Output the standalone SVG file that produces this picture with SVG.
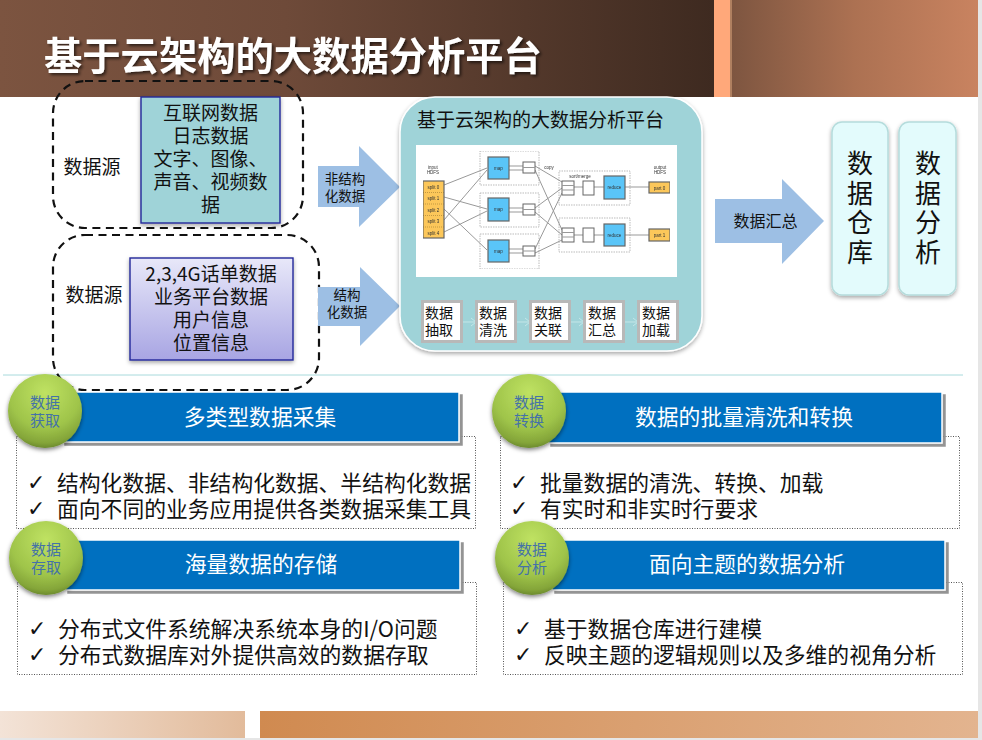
<svg xmlns="http://www.w3.org/2000/svg" width="982" height="740" viewBox="0 0 982 740">
<style>
text{font-family:"Noto Sans CJK SC","Liberation Sans",sans-serif;fill:#111}
.m{text-anchor:middle}
.t19{font-size:19px}
.t14{font-size:14px}
.t22{font-size:21.8px}
.w{fill:#fff}
.blue{fill:#0070c0;stroke:#fff;stroke-width:1.5;filter:url(#hardShadow)}
.dot{fill:none;stroke:#555;stroke-width:1;stroke-dasharray:1 1.5}
.dash{fill:none;stroke:#111;stroke-width:2.2;stroke-dasharray:8 5.500}
.arrow{fill:#9dbfe4}
.step{fill:#fff;stroke:#b8b8b8;stroke-width:3}
.card{fill:#e3fbfc;stroke:#b5dcdc;stroke-width:1.5;filter:url(#softShadow)}
.vt{font-size:26px;writing-mode:vertical-rl;letter-spacing:3.700px}
.ck{font-family:"DejaVu Sans",sans-serif;font-size:22px}
.cir{fill:url(#ball);filter:url(#ballShadow)}
.ct{fill:#4472a8;font-size:15px;text-anchor:middle}
.il{stroke:#999;stroke-width:1;fill:none}
.dg{fill:none;stroke:#aaa;stroke-width:.8;stroke-dasharray:1.5 1}
.yl{fill:#fcc75a;stroke:#666;stroke-width:1.2}
.bl{fill:#5ac5f8;stroke:#666;stroke-width:1.2}
.bf{fill:#fff;stroke:#666;stroke-width:1}
.s{font-family:"Liberation Sans",sans-serif;font-size:4.5px;text-anchor:middle;fill:#333}
.fa{stroke:#c4e6e8;stroke-width:1;fill:none}
</style>
<defs>
<linearGradient id="hd1" x1="0" x2="1" y1="0" y2="0"><stop offset="0" stop-color="#7c5440"/><stop offset=".4" stop-color="#6e4a39"/><stop offset="1" stop-color="#3e2a20"/></linearGradient>
<linearGradient id="hd2" x1="0" x2="1" y1="0" y2="0"><stop offset="0" stop-color="#7d5540"/><stop offset=".5" stop-color="#ac7152"/><stop offset="1" stop-color="#c98360"/></linearGradient>
<linearGradient id="ft1" x1="0" x2="1" y1="0" y2="0"><stop offset="0" stop-color="#f3e3d7"/><stop offset="1" stop-color="#e2bb9b"/></linearGradient>
<linearGradient id="ft2" x1="0" x2="1" y1="0" y2="0"><stop offset="0" stop-color="#d08a50"/><stop offset="1" stop-color="#e3b48f"/></linearGradient>
<linearGradient id="purple" x1="0" x2="0" y1="0" y2="1"><stop offset="0" stop-color="#e8e8f9"/><stop offset="1" stop-color="#a8a5e3"/></linearGradient>
<radialGradient id="ball" cx=".5" cy=".25" r=".8"><stop offset="0" stop-color="#bfe262"/><stop offset=".6" stop-color="#9fc44a"/><stop offset=".85" stop-color="#84a539"/><stop offset="1" stop-color="#5b7826"/></radialGradient>
<filter id="softShadow" x="-20%" y="-20%" width="140%" height="140%"><feDropShadow dx="0" dy="2" stdDeviation="2" flood-color="#000" flood-opacity=".35"/></filter>
<filter id="ballShadow" x="-20%" y="-20%" width="140%" height="140%"><feDropShadow dx="0" dy="2" stdDeviation="2" flood-color="#000" flood-opacity=".5"/></filter>
<filter id="hardShadow" x="-5%" y="-10%" width="110%" height="125%"><feDropShadow dx="3" dy="3" stdDeviation=".4" flood-color="#888" flood-opacity=".9"/></filter>
<filter id="titleShadow" x="-5%" y="-20%" width="110%" height="150%"><feDropShadow dx="2" dy="2" stdDeviation="1.5" flood-color="#000" flood-opacity=".6"/></filter>
<filter id="blur" x="0" y="0" width="100%" height="100%"><feGaussianBlur stdDeviation=".3"/></filter>
</defs>

<rect width="982" height="740" fill="#fff"/>
<g id="chrome">
<rect x="978" y="0" width="4" height="740" fill="#e6e6e6"/>
<rect x="0" y="738" width="982" height="2" fill="#e6e6e6"/>
<rect x="0" y="0" width="714" height="97" fill="url(#hd1)"/>
<rect x="714" y="0" width="16" height="97" fill="#ffa87a"/>
<rect x="730" y="0" width="248" height="97" fill="url(#hd2)"/>
<rect x="730" y="0" width="2" height="97" fill="#b08060"/>
<rect x="0" y="711" width="245" height="27" fill="url(#ft1)"/>
<rect x="260" y="711" width="718" height="27" fill="url(#ft2)"/>
<line x1="3" y1="375" x2="963" y2="375" stroke="#a8dadc" stroke-width="1"/>
</g>
<g id="title"><text x="44" y="70" font-size="38.300" font-weight="700" class="w" filter="url(#titleShadow)">基于云架构的大数据分析平台</text></g>

<g id="source1">
<rect class="dash" x="53" y="81" width="250" height="147" rx="32"/>
<text class="t19" x="63.500" y="174">数据源</text>
<rect x="141" y="97" width="139" height="126" fill="#9fd3d8" stroke="#23279a" stroke-width="1.400" filter="url(#softShadow)"/>
<text class="t19 m"><tspan x="210.500" y="120">互联网数据</tspan><tspan x="210.500" y="143">日志数据</tspan><tspan x="210.500" y="166">文字、图像、</tspan><tspan x="210.500" y="189">声音、视频数</tspan><tspan x="210.500" y="212">据</tspan></text>
</g>
<g id="source2">
<rect class="dash" x="53" y="235" width="266" height="155" rx="32"/>
<text class="t19" x="65.500" y="302">数据源</text>
<rect x="130" y="258" width="163" height="102" fill="url(#purple)" stroke="#23279a" stroke-width="1.400" filter="url(#softShadow)"/>
<text class="t19 m"><tspan x="211" y="281">2,3,4G话单数据</tspan><tspan x="211" y="304">业务平台数据</tspan><tspan x="211" y="327">用户信息</tspan><tspan x="211" y="350">位置信息</tspan></text>
</g>

<g id="connectors">
<polygon class="arrow" points="318,166 359,166 359,146 400,187 359,227 359,207 318,207"/>
<polygon class="arrow" points="318,287 360,287 360,267 400,306 360,346 360,326 318,326"/>
<polygon class="arrow" points="715,199 782,199 782,179 824,221 782,264 782,243 715,243"/>
<text class="m" font-size="13.500"><tspan x="345" y="184">非结构</tspan><tspan x="345" y="201">化数据</tspan></text>
<text class="m" font-size="13.500"><tspan x="347" y="300">结构</tspan><tspan x="347" y="317">化数据</tspan></text>
<text class="m" font-size="16" x="765.500" y="227">数据汇总</text>
</g>

<g id="platform">
<rect x="400" y="97" width="302" height="254" rx="35" fill="#9fd3d8" stroke="#fff" stroke-width="1.5" filter="url(#softShadow)"/>
<text class="t19" x="417" y="127">基于云架构的大数据分析平台</text>
<rect x="416" y="145" width="261" height="132" fill="#fff"/>
<g id="mapreduce" filter="url(#blur)">
<g>
<rect class="dg" x="480" y="151" width="59" height="34"/><rect class="dg" x="480" y="193" width="59" height="34"/><rect class="dg" x="480" y="234" width="59" height="35"/>
<rect class="dg" x="559" y="171" width="71" height="34"/><rect class="dg" x="559" y="218" width="71" height="34"/>
</g>
<g>
<path class="il" d="M444 185L487 168M444 197L487 209M444 209L487 250M444 220L487 170M444 232L487 211"/>
<path class="il" d="M509 166H523M509 170H523M509 208H523M509 212H523M509 249H523M509 253H523"/>
<path class="il" d="M535 166L562 182M535 170L562 230M535 208L562 188M535 212L562 235M535 249L562 193M535 253L562 240"/>
<path class="il" d="M574 187H583M594 187H604M625 187H649M574 235H583M594 235H604M625 235H649"/>
</g>
<rect class="yl" x="423" y="181" width="21" height="57"/>
<path stroke="#8a6a2a" stroke-width=".5" stroke-dasharray="1 1" d="M423 192.500H444M423 204H444M423 215.500H444M423 227H444"/>
<text class="s" x="433.500" y="188.500">split 0</text><text class="s" x="433.500" y="200">split 1</text><text class="s" x="433.500" y="211.500">split 2</text><text class="s" x="433.500" y="223">split 3</text><text class="s" x="433.500" y="234.500">split 4</text>
<text class="s"><tspan x="433" y="169">input</tspan><tspan x="433" y="174">HDFS</tspan></text>
<text class="s" x="549" y="169">copy</text><text class="s" x="580" y="178">sort/merge</text>
<text class="s"><tspan x="660" y="169">output</tspan><tspan x="660" y="174">HDFS</tspan></text>
<rect class="bl" x="488" y="157" width="21" height="22"/><text class="s" x="498.500" y="169.500">map</text>
<rect class="bl" x="488" y="198" width="21" height="23"/><text class="s" x="498.500" y="211">map</text>
<rect class="bl" x="488" y="240" width="21" height="22"/><text class="s" x="498.500" y="252.500">map</text>
<rect class="bf" x="523" y="162" width="12" height="11"/><path class="il" d="M523 167.500H535"/>
<rect class="bf" x="523" y="204" width="12" height="11"/><path class="il" d="M523 209.500H535"/>
<rect class="bf" x="523" y="246" width="12" height="10"/><path class="il" d="M523 251H535"/>
<rect class="bf" x="562" y="181" width="12" height="14"/><path class="il" d="M562 185.500H574M562 190H574"/>
<rect class="bf" x="562" y="228" width="12" height="14"/><path class="il" d="M562 232.500H574M562 237H574"/>
<rect class="bf" x="583" y="181" width="11" height="14"/><rect class="bf" x="583" y="228" width="11" height="14"/>
<rect class="bl" x="604" y="176" width="21" height="23"/><text class="s" x="614.500" y="189">reduce</text>
<rect class="bl" x="604" y="224" width="21" height="22"/><text class="s" x="614.500" y="236.500">reduce</text>
<rect class="yl" x="649" y="182" width="21" height="11"/><text class="s" x="659.500" y="189.500">part 0</text>
<rect class="yl" x="649" y="229" width="21" height="12"/><text class="s" x="659.500" y="237">part 1</text>
</g>
<path class="fa" d="M463 322H476M471 318L476 322L471 326M517 322H530M525 318L530 322L525 326M571 322H584M579 318L584 322L579 326M625 322H638M633 318L638 322L633 326"/>
<g id="s1"><rect class="step" x="422.500" y="301.500" width="39" height="40"/><text class="t14 m"><tspan x="439" y="318">数据</tspan><tspan x="439" y="335">抽取</tspan></text></g>
<g id="s2"><rect class="step" x="476.500" y="301.500" width="39" height="40"/><text class="t14 m"><tspan x="493" y="318">数据</tspan><tspan x="493" y="335">清洗</tspan></text></g>
<g id="s3"><rect class="step" x="530.500" y="301.500" width="39" height="40"/><text class="t14 m"><tspan x="548" y="318">数据</tspan><tspan x="548" y="335">关联</tspan></text></g>
<g id="s4"><rect class="step" x="584.500" y="301.500" width="39" height="40"/><text class="t14 m"><tspan x="602" y="318">数据</tspan><tspan x="602" y="335">汇总</tspan></text></g>
<g id="s5"><rect class="step" x="638.500" y="301.500" width="39" height="40"/><text class="t14 m"><tspan x="656" y="318">数据</tspan><tspan x="656" y="335">加载</tspan></text></g>
</g>

<g id="warehouse">
<rect class="card" x="832" y="122" width="56" height="173" rx="10"/>
<text class="vt" x="860" y="150">数据仓库</text>
</g>
<g id="analysis">
<rect class="card" x="899" y="122" width="57" height="173" rx="10"/>
<text class="vt" x="928" y="150">数据分析</text>
</g>

<g id="panel1">
<rect class="dot" x="16.500" y="436.500" width="459" height="92"/>
<rect class="blue" x="62" y="392" width="397" height="50"/>
<text class="t22 m w" x="260" y="425">多类型数据采集</text>
<circle class="cir" cx="45" cy="411" r="37"/>
<text class="ct"><tspan x="45" y="408">数据</tspan><tspan x="45" y="426">获取</tspan></text>
<text class="ck"><tspan x="27" y="490">✓</tspan><tspan x="27" y="516">✓</tspan></text>
<text class="t22"><tspan x="57" y="491">结构化数据、非结构化数据、半结构化数据</tspan><tspan x="57" y="517">面向不同的业务应用提供各类数据采集工具</tspan></text>
</g>
<g id="panel2">
<rect class="dot" x="500.500" y="436.500" width="459" height="92"/>
<rect class="blue" x="548" y="392" width="394" height="51"/>
<text class="t22 m w" x="744" y="425">数据的批量清洗和转换</text>
<circle class="cir" cx="529" cy="411" r="37"/>
<text class="ct"><tspan x="529" y="408">数据</tspan><tspan x="529" y="426">转换</tspan></text>
<text class="ck"><tspan x="510" y="490">✓</tspan><tspan x="510" y="516">✓</tspan></text>
<text class="t22"><tspan x="540" y="491">批量数据的清洗、转换、加载</tspan><tspan x="540" y="517">有实时和非实时行要求</tspan></text>
</g>
<g id="panel3">
<rect class="dot" x="17.500" y="582.500" width="459" height="92"/>
<rect class="blue" x="65" y="540" width="395" height="50"/>
<text class="t22 m w" x="261" y="572">海量数据的存储</text>
<circle class="cir" cx="46" cy="558" r="37"/>
<text class="ct"><tspan x="46" y="555">数据</tspan><tspan x="46" y="573">存取</tspan></text>
<text class="ck"><tspan x="28" y="636">✓</tspan><tspan x="28" y="662">✓</tspan></text>
<text class="t22"><tspan x="58" y="637">分布式文件系统解决系统本身的I/O问题</tspan><tspan x="58" y="663">分布式数据库对外提供高效的数据存取</tspan></text>
</g>
<g id="panel4">
<rect class="dot" x="503.500" y="582.500" width="459" height="92"/>
<rect class="blue" x="552" y="540" width="393" height="50"/>
<text class="t22 m w" x="747" y="572">面向主题的数据分析</text>
<circle class="cir" cx="532" cy="558" r="37"/>
<text class="ct"><tspan x="532" y="555">数据</tspan><tspan x="532" y="573">分析</tspan></text>
<text class="ck"><tspan x="514" y="636">✓</tspan><tspan x="514" y="662">✓</tspan></text>
<text class="t22"><tspan x="544" y="637">基于数据仓库进行建模</tspan><tspan x="544" y="663">反映主题的逻辑规则以及多维的视角分析</tspan></text>
</g>
</svg>
